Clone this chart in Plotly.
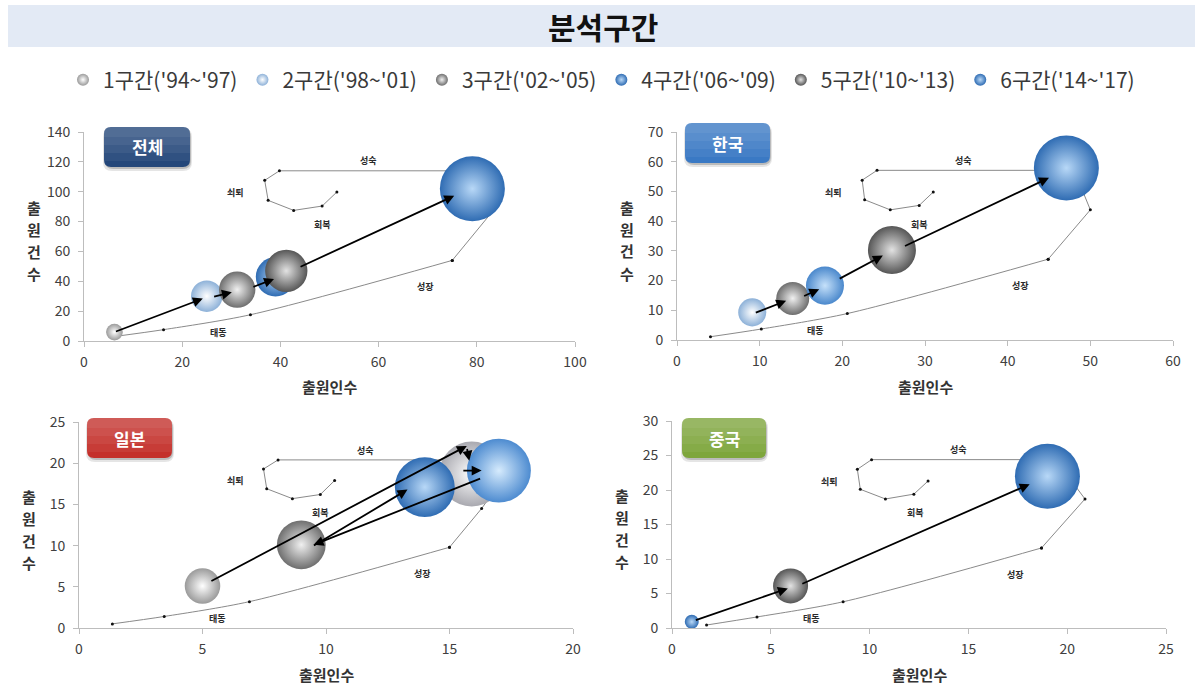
import plotly.graph_objects as go

W, H = 1203, 685
FONT = "Noto Sans CJK KR"

# ---------------------------------------------------------------- data
periods = ["1구간('94~'97)", "2구간('98~'01)", "3구간('02~'05)",
           "4구간('06~'09)", "5구간('10~'13)", "6구간('14~'17)"]
stages = ["태동", "성장", "성숙", "쇠퇴", "회복"]

# 전체
all_inventors = [6.2, 25.0, 31.2, 39.0, 41.2, 79.1]      # 출원인수
all_filings = [6.0, 30.0, 34.4, 43.0, 47.0, 102.0]       # 출원건수
all_bubble = [6.6, 23.5, 31.4, 36.7, 42.4, 100.0]
all_arrows = [(6.2, 6.0, 24.2, 28.4), (26.2, 29.5, 30.1, 32.6),
              (34.2, 35.9, 38.7, 41.5), (43.8, 49.3, 75.4, 97.3)]
all_growth_x = [6.4, 16.2, 33.9, 75.0]
all_growth_y = [3.1, 7.6, 17.6, 54.0]
all_cycle_x = [75.0, 84.0, 80.0, 39.8, 36.8, 37.5, 42.7, 48.5, 51.5]
all_cycle_y = [54.0, 90.0, 114.0, 114.0, 107.6, 94.2, 87.5, 90.4, 99.8]
all_stage_x = [27.3, 69.6, 57.9, 30.9, 48.5]
all_stage_y = [6.0, 36.6, 120.8, 99.8, 77.9]

# 한국
kr_inventors = [None, 9.1, 14.0, 17.9, 26.0, 47.1]
kr_filings = [None, 9.3, 14.0, 18.3, 30.3, 57.9]
kr_bubble = [None, 18.6, 25.8, 34.2, 54.5, 100.0]
kr_arrows = [(9.35, 9.0, 13.2, 13.2), (15.2, 14.6, 17.2, 17.1),
             (19.5, 20.4, 24.9, 28.4), (27.4, 31.4, 45.0, 54.6)]
kr_growth_x = [4.05, 10.2, 20.6, 44.9]
kr_growth_y = [1.1, 3.7, 8.9, 27.2]
kr_cycle_x = [44.9, 50.0, 48.8, 46.0, 24.2, 22.4, 22.7, 25.8, 29.3, 31.0]
kr_cycle_y = [27.2, 43.8, 52.0, 57.1, 57.1, 53.8, 47.2, 43.8, 45.3, 49.8]
kr_stage_x = [16.8, 41.6, 34.7, 18.9, 29.3]
kr_stage_y = [3.1, 18.2, 60.3, 49.8, 39.0]

# 일본
jp_inventors = [5.0, 15.9, 9.0, 14.0, None, 17.0]
jp_filings = [5.1, 18.7, 10.1, 17.1, None, 19.1]
jp_bubble = [29.9, 100.0, 56.3, 85.0, None, 96.9]
jp_arrows = [(5.3, 5.6, 15.7, 22.1), (15.7, 21.9, 15.8, 20.3),
             (16.3, 18.2, 9.5, 10.1), (9.45, 9.9, 13.3, 16.8),
             (15.5, 19.1, 16.3, 19.1)]
jp_growth_x = [1.35, 3.45, 6.9, 15.0]
jp_growth_y = [0.5, 1.4, 3.2, 9.8]
jp_cycle_x = [15.0, 16.3, 16.9, 15.5, 8.06, 7.47, 7.6, 8.64, 9.77, 10.35]
jp_cycle_y = [9.8, 14.5, 17.0, 20.4, 20.4, 19.3, 16.9, 15.7, 16.2, 17.9]
jp_stage_x = [5.6, 13.9, 11.6, 6.33, 9.77]
jp_stage_y = [1.2, 6.6, 21.6, 17.9, 14.0]

# 중국
cn_inventors = [None, None, None, 1.0, 6.0, 19.0]
cn_filings = [None, None, None, 0.9, 6.1, 22.0]
cn_bubble = [None, None, None, 4.6, 29.0, 100.0]
cn_arrows = [(1.13, 1.06, 5.86, 5.74), (6.52, 6.32, 18.1, 20.84)]
cn_growth_x = [1.75, 4.3, 8.66, 18.7]
cn_growth_y = [0.43, 1.6, 3.8, 11.6]
cn_cycle_x = [18.7, 20.9, 20.3, 18.5, 10.1, 9.38, 9.53, 10.8, 12.24, 12.96]
cn_cycle_y = [11.6, 18.7, 21.0, 24.4, 24.4, 23.0, 20.1, 18.7, 19.4, 21.3]
cn_stage_x = [7.04, 17.4, 14.5, 7.96, 12.3]
cn_stage_y = [1.35, 7.8, 25.8, 21.3, 16.7]

# ---------------------------------------------------------------- styles
sphere_edge = ["#9a9a9a", "#8db1d8", "#6e6e6e", "#2f6cb3", "#565656", "#2f6cb3"]
sphere_core = ["#ffffff", "#ffffff", "#f0f0f0", "#b8d8f7", "#e2e2e2", "#b8d8f7"]
BUBBLE_MAX = 65

panels = [
    dict(name="전체", badge="#24477a", x=all_inventors, y=all_filings, s=all_bubble,
         arrows=all_arrows, gx=all_growth_x, gy=all_growth_y, cx=all_cycle_x, cy=all_cycle_y,
         sx=all_stage_x, sy=all_stage_y, xr=100, yr=140, dx=20, dy=20,
         px=(84, 575), py=(132, 341), badge_px=(104, 127, 190, 167), recolor={}),
    dict(name="한국", badge="#3a79c4", x=kr_inventors, y=kr_filings, s=kr_bubble,
         arrows=kr_arrows, gx=kr_growth_x, gy=kr_growth_y, cx=kr_cycle_x, cy=kr_cycle_y,
         sx=kr_stage_x, sy=kr_stage_y, xr=60, yr=70, dx=10, dy=10,
         px=(677, 1173), py=(132, 340), badge_px=(685, 123, 770, 163),
         recolor={3: ("#4a88cc", "#c6e1fa")}),
    dict(name="일본", badge="#c4302b", x=jp_inventors, y=jp_filings, s=jp_bubble,
         arrows=jp_arrows, gx=jp_growth_x, gy=jp_growth_y, cx=jp_cycle_x, cy=jp_cycle_y,
         sx=jp_stage_x, sy=jp_stage_y, xr=20, yr=25, dx=5, dy=5,
         px=(79, 573), py=(422, 628), badge_px=(87, 418, 172, 458),
         recolor={1: ("#a9a9b0", "#ffffff"), 5: ("#4d8bd0", "#d6ebfd")}),
    dict(name="중국", badge="#7ea63c", x=cn_inventors, y=cn_filings, s=cn_bubble,
         arrows=cn_arrows, gx=cn_growth_x, gy=cn_growth_y, cx=cn_cycle_x, cy=cn_cycle_y,
         sx=cn_stage_x, sy=cn_stage_y, xr=25, yr=30, dx=5, dy=5,
         px=(672, 1166), py=(421, 628), badge_px=(682, 418, 766, 458), recolor={}),
]


def fx(p):
    return p / W


def fy(p):
    return 1 - p / H


def rounded_path(x0, y0, x1, y1, r, bottom_round=True):
    rb = r if bottom_round else 0
    pts = [("M", (x0 + r, y0)), ("L", (x1 - r, y0)), ("Q", (x1, y0), (x1, y0 + r)),
           ("L", (x1, y1 - rb)), ("Q", (x1, y1), (x1 - rb, y1)), ("L", (x0 + rb, y1)),
           ("Q", (x0, y1), (x0, y1 - rb)), ("L", (x0, y0 + r)), ("Q", (x0, y0), (x0 + r, y0))]
    out = []
    for item in pts:
        cmd, coords = item[0], item[1:]
        out.append(cmd + " " + " ".join(f"{fx(a):.5f},{fy(b):.5f}" for a, b in coords))
    return " ".join(out) + " Z"


fig = go.Figure()
shapes, annotations = [], []
axis_font = dict(family=FONT, size=14, color="#404040")
title_font = dict(family=FONT, size=15, color="#333333")

# title band
shapes.append(dict(type="rect", xref="paper", yref="paper", x0=fx(8), x1=fx(1195),
                   y0=fy(47), y1=fy(5), fillcolor="#e3eaf5", line=dict(width=0), layer="below"))
annotations.append(dict(text="<b>분석구간</b>", xref="paper", yref="paper", x=fx(603), y=fy(26),
                        showarrow=False, font=dict(family=FONT, size=30, color="#111111"),
                        xanchor="center", yanchor="middle"))

legend_done = set()
for k, p in enumerate(panels):
    n = "" if k == 0 else str(k + 1)
    xa, ya = "x" + n, "y" + n
    xl, yl = "xaxis" + n, "yaxis" + n

    fig.update_layout({
        xl: dict(domain=[fx(p["px"][0]), fx(p["px"][1])], range=[0, p["xr"]], dtick=p["dx"],
                 anchor=ya, showline=True, linecolor="#bdbdbd", linewidth=1, showgrid=False,
                 zeroline=False, ticks="outside", ticklen=5, tickcolor="#bdbdbd",
                 tickfont=axis_font, ticklabelstandoff=3, fixedrange=True, automargin=False),
        yl: dict(domain=[fy(p["py"][1]), fy(p["py"][0])], range=[0, p["yr"]], dtick=p["dy"],
                 anchor=xa, showline=True, linecolor="#bdbdbd", linewidth=1, showgrid=False,
                 zeroline=False, ticks="outside", ticklen=5, tickcolor="#bdbdbd",
                 tickfont=axis_font, ticklabelstandoff=5, fixedrange=True, automargin=False),
    })

    # life-cycle path: smooth growth part, then the loop
    fig.add_trace(go.Scatter(x=p["gx"], y=p["gy"], xaxis=xa, yaxis=ya, mode="lines+markers",
                             line=dict(color="#8a8a8a", width=1, shape="spline", smoothing=0.8),
                             marker=dict(size=3, color="#111111"), showlegend=False,
                             hoverinfo="skip"))
    fig.add_trace(go.Scatter(x=p["cx"], y=p["cy"], xaxis=xa, yaxis=ya, mode="lines+markers",
                             line=dict(color="#8a8a8a", width=1),
                             marker=dict(size=3, color="#111111"), showlegend=False,
                             hoverinfo="skip"))

    # bubbles, one trace per period
    vals = [v for v in p["s"] if v is not None]
    sref = 2.0 * max(vals) / BUBBLE_MAX ** 2
    for i, label in enumerate(periods):
        if p["x"][i] is None:
            continue
        edge, core = p["recolor"].get(i, (sphere_edge[i], sphere_core[i]))
        show = label not in legend_done
        legend_done.add(label)
        fig.add_trace(go.Scatter(
            x=[p["x"][i]], y=[p["y"][i]], xaxis=xa, yaxis=ya, mode="markers", name=label,
            legendgroup=label, showlegend=show, cliponaxis=False, hoverinfo="skip",
            marker=dict(size=[p["s"][i]], sizemode="area", sizeref=sref, color=edge,
                        opacity=1, gradient=dict(type="radial", color=core),
                        line=dict(width=0))))

    # arrows between periods
    for (x0, y0, x1, y1) in p["arrows"]:
        annotations.append(dict(x=x1, y=y1, ax=x0, ay=y0, xref=xa, yref=ya, axref=xa, ayref=ya,
                                text="", showarrow=True, arrowhead=2, arrowsize=1.1,
                                arrowwidth=1.8, arrowcolor="#000000", standoff=0))

    # stage labels
    for t, sx, sy in zip(stages, p["sx"], p["sy"]):
        annotations.append(dict(x=sx, y=sy, xref=xa, yref=ya, text=f"<b>{t}</b>",
                                showarrow=False, font=dict(family=FONT, size=9, color="#2a2a2a")))

    # axis titles
    cx_px = (p["px"][0] + p["px"][1]) / 2
    annotations.append(dict(text="<b>출원인수</b>", xref="paper", yref="paper", x=fx(cx_px),
                            y=fy(p["py"][1] + 46), showarrow=False, font=title_font,
                            xanchor="center", yanchor="middle"))
    cy_px = (p["py"][0] + p["py"][1]) / 2 + 4
    for j, ch in enumerate("출원건수"):
        annotations.append(dict(text=f"<b>{ch}</b>", xref="paper", yref="paper",
                                x=fx(p["px"][0] - 50), y=fy(cy_px + (j - 1.5) * 22),
                                showarrow=False, font=title_font,
                                xanchor="center", yanchor="middle"))

    # badge
    bx0, by0, bx1, by1 = p["badge_px"]
    shapes.append(dict(type="path", xref="paper", yref="paper",
                       path=rounded_path(bx0 - 1, by0 + 1, bx1 + 2, by1 + 4, 9),
                       fillcolor="rgba(0,0,0,0.10)", line=dict(width=0)))
    shapes.append(dict(type="path", xref="paper", yref="paper",
                       path=rounded_path(bx0 + 1, by0 + 2, bx1 + 1, by1 + 2, 8),
                       fillcolor="rgba(0,0,0,0.18)", line=dict(width=0)))
    shapes.append(dict(type="path", xref="paper", yref="paper",
                       path=rounded_path(bx0, by0, bx1, by1, 7),
                       fillcolor=p["badge"], line=dict(width=0)))
    h = by1 - by0
    for frac in (0.85, 0.65, 0.45, 0.25):
        shapes.append(dict(type="path", xref="paper", yref="paper",
                           path=rounded_path(bx0, by0, bx1, by0 + h * frac, 7, bottom_round=False),
                           fillcolor="rgba(255,255,255,0.06)", line=dict(width=0)))
    annotations.append(dict(text=f"<b>{p['name']}</b>", xref="paper", yref="paper",
                            x=fx((bx0 + bx1) / 2), y=fy((by0 + by1) / 2), showarrow=False,
                            font=dict(family=FONT, size=17, color="#ffffff"),
                            xanchor="center", yanchor="middle"))

fig.update_layout(
    width=W, height=H, margin=dict(l=0, r=0, t=0, b=0, autoexpand=False),
    paper_bgcolor="#ffffff", plot_bgcolor="#ffffff",
    shapes=shapes, annotations=annotations,
    legend=dict(orientation="h", x=0.5, xanchor="center", y=fy(80), yanchor="middle",
                font=dict(family=FONT, size=21, color="#3a3a3a"), itemsizing="constant",
                bgcolor="rgba(0,0,0,0)", itemwidth=30, tracegroupgap=0),
)

fig.write_html("out.html")
